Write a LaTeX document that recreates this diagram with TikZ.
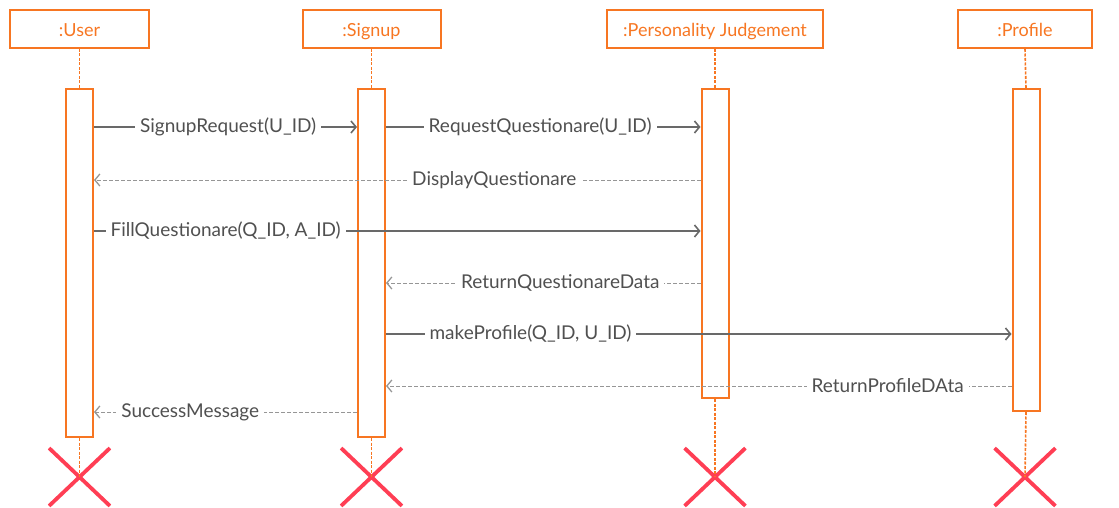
\documentclass[tikz,border=0pt]{standalone}
\usepackage{fontspec}
\setmainfont{Lato}
\usetikzlibrary{arrows.meta,shapes.misc}
\definecolor{lineorange}{RGB}{247,118,34}
\definecolor{crossred}{RGB}{255,62,84}
\definecolor{callgray}{RGB}{105,105,105}
\definecolor{retgray}{RGB}{150,150,150}
\definecolor{labelgray}{RGB}{80,80,80}
\begin{document}
\begin{tikzpicture}[x=1pt,y=-1pt,
  header/.style={draw=lineorange, line width=2pt, text=lineorange, minimum height=38pt,
    inner sep=0pt, text height=16pt, text depth=0pt, font=\fontsize{18}{20}\selectfont},
  actbox/.style={draw=lineorange, line width=2pt, fill=white, minimum width=27pt, inner sep=0pt},
  lifeline/.style={draw=lineorange, line width=1.6pt, dash pattern=on 3pt off 1.5pt},
  endmark/.style={cross out, draw=crossred, line width=3.8pt, minimum width=57pt,
    minimum height=54pt, inner sep=0pt},
  call/.style={draw=callgray, line width=1.6pt, -{Straight Barb[length=5pt,width=12pt,line width=1.6pt]}},
  reply/.style={draw=retgray, line width=1pt, dash pattern=on 4pt off 2pt,
    -{Straight Barb[length=5pt,width=12pt,line width=1.3pt]}},
  lbl/.style={fill=white, text=labelgray, inner xsep=5pt, inner ysep=1pt,
    font=\fontsize{19}{21}\selectfont}]
\useasboundingbox (0,0) rectangle (1119,508);

% participants
\node[header, minimum width=139pt] (hu) at (79.5,29) {:User};
\node[header, minimum width=138pt] (hs) at (371.5,29) {:Signup};
\node[header, minimum width=216pt] (hp) at (715,29) {:Personality Judgement};
\node[header, minimum width=134pt] (hf) at (1025,29) {:Profile};

% end markers
\node[endmark] (xu) at (79.5,477) {};
\node[endmark] (xs) at (371.5,477) {};
\node[endmark] (xp) at (715,477) {};
\node[endmark] (xf) at (1025,477) {};

% activation bars
\node[actbox, minimum height=348pt] (au) at (79.5,263) {};
\node[actbox, minimum height=348pt] (as) at (371.5,263) {};
\node[actbox, minimum height=309pt] (ap) at (715,243.5) {};
\node[actbox, minimum height=322pt] (af) at (1026,250) {};

% lifelines
\foreach \h/\a/\x in {hu/au/xu, hs/as/xs, hp/ap/xp, hf/af/xf} {
  \draw[lifeline] (\h.south) -- (\a.north);
  \draw[lifeline] (\a.south) -- (\x.center);
}

% message rows
\coordinate (m1) at (0,127);
\coordinate (m2) at (0,180);
\coordinate (m3) at (0,231);
\coordinate (m4) at (0,283);
\coordinate (m5) at (0,334);
\coordinate (m6) at (0,386);
\coordinate (m7) at (0,412);

% messages
\draw[call] (au.east |- m1) -- (as.west |- m1) node[lbl, pos=0.51] {SignupRequest(U\_ID)};
\draw[call] (as.east |- m1) -- (ap.west |- m1) node[lbl, pos=0.49] {RequestQuestionare(U\_ID)};
\draw[reply] (ap.west |- m2) -- (au.east |- m2) node[lbl, pos=0.34] {DisplayQuestionare};
\draw[call] (au.east |- m3) -- (ap.west |- m3) node[lbl, pos=0.217] {FillQuestionare(Q\_ID, A\_ID)};
\draw[reply] (ap.west |- m4) -- (as.east |- m4) node[lbl, pos=0.446] {ReturnQuestionareData};
\draw[call] (as.east |- m5) -- (af.west |- m5) node[lbl, pos=0.231] {makeProfile(Q\_ID, U\_ID)};
\draw[reply] (af.west |- m6) -- (as.east |- m6) node[lbl, pos=0.198] {ReturnProfileDAta};
\draw[reply] (as.west |- m7) -- (au.east |- m7) node[lbl, pos=0.634] {SuccessMessage};
\end{tikzpicture}
\end{document}
